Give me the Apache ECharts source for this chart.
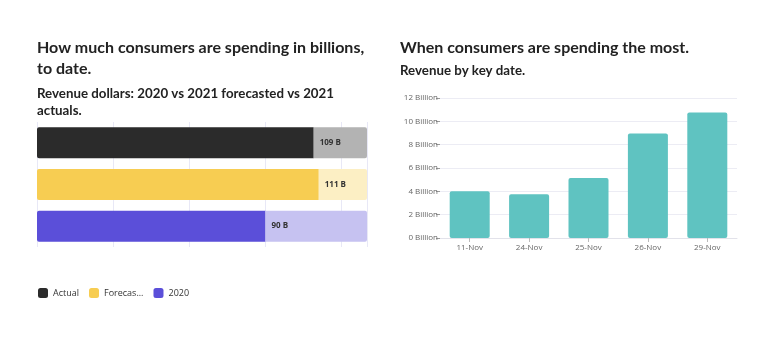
<!DOCTYPE html>
<html>
<head>
<meta charset="utf-8">
<script src="https://cdn.jsdelivr.net/npm/echarts@6/dist/echarts.min.js"></script>
<style>
  html, body { margin: 0; padding: 0; background: #fff; }
  #chart { width: 758px; height: 345px; }
</style>
</head>
<body>
<div id="chart"></div>
<script>
// spending to date (billions)
var spendNames = ['Actual', 'Forecasted', '2020'];
var spendValues = [109, 111, 90];
var spendMax = 130;
var spendColors = ['#2b2b2b', '#f7cd52', '#5b4fd9'];
var spendLight = ['#b3b3b3', '#fcefc4', '#c6c2f1'];

// revenue by key date (billions)
var dates = ['11-Nov', '24-Nov', '25-Nov', '26-Nov', '29-Nov'];
var revenue = [4.0, 3.75, 5.15, 8.95, 10.75];
var revenueTicks = [0, 2, 4, 6, 8, 10, 12];

var FONT = 'Open Sans';
var HEAD = 'Lato';
var myChart = echarts.init(document.getElementById('chart'));

var series = [];
spendNames.forEach(function (name, i) {
	series.push({
		name: name,
		type: 'bar',
		stack: 's' + i,
		xAxisIndex: 0,
		yAxisIndex: 0,
		barWidth: 31,
		barGap: '-100%',
		itemStyle: { color: spendColors[i], borderRadius: [2, 0, 0, 2] },
		label: {
			show: true,
			position: 'right',
			distance: 6,
			formatter: '{c} B',
			fontFamily: FONT,
			fontSize: 8,
			fontWeight: 'bold',
			color: '#333'
		},
		data: spendNames.map(function (n, j) { return j === i ? spendValues[i] : '-'; })
	});
	// lighter remainder up to the axis max
	series.push({
		name: name + ' remaining',
		type: 'bar',
		stack: 's' + i,
		xAxisIndex: 0,
		yAxisIndex: 0,
		barWidth: 31,
		barGap: '-100%',
		silent: true,
		itemStyle: { color: spendLight[i], borderRadius: [0, 2, 2, 0] },
		data: spendNames.map(function (n, j) { return j === i ? spendMax - spendValues[i] : '-'; })
	});
});

series.push({
	name: 'Revenue',
	type: 'bar',
	xAxisIndex: 1,
	yAxisIndex: 1,
	barWidth: 40,
	itemStyle: { color: '#5fc3c1', borderRadius: 2 },
	data: revenue
});

option = {
	backgroundColor: '#fff',
	animation: false,
	title: [
		{
			text: 'How much consumers are spending in billions,\nto date.',
			left: 37, top: 37, padding: 0,
			textStyle: { fontFamily: HEAD, fontSize: 16, fontWeight: 'bold', color: '#222', lineHeight: 21 }
		},
		{
			text: 'Revenue dollars: 2020 vs 2021 forecasted vs 2021\nactuals.',
			left: 37, top: 85, padding: 0,
			textStyle: { fontFamily: HEAD, fontSize: 13.3, fontWeight: 'bold', color: '#222', lineHeight: 17 }
		},
		{
			text: 'When consumers are spending the most.',
			left: 400, top: 37, padding: 0,
			textStyle: { fontFamily: HEAD, fontSize: 16, fontWeight: 'bold', color: '#222', lineHeight: 21 }
		},
		{
			text: 'Revenue by key date.',
			left: 400, top: 63, padding: 0,
			textStyle: { fontFamily: HEAD, fontSize: 13.3, fontWeight: 'bold', color: '#222', lineHeight: 16 }
		}
	],
	legend: {
		data: spendNames,
		left: 33, top: 283,
		icon: 'roundRect',
		itemWidth: 10, itemHeight: 10,
		itemGap: 10,
		textStyle: { fontFamily: FONT, fontSize: 9, color: '#333', width: 44, overflow: 'truncate', ellipsis: '...' }
	},
	grid: [
		{ left: 37, right: 391, top: 122, bottom: 98 },
		{ left: 440, right: 21, top: 98, bottom: 107 }
	],
	xAxis: [
		{
			type: 'value', gridIndex: 0, min: 0, max: spendMax, interval: 30,
			axisLabel: { show: false },
			axisLine: { show: false },
			axisTick: { show: false },
			splitLine: { lineStyle: { color: '#e8e8f6' } }
		},
		{
			type: 'category', gridIndex: 1, data: dates,
			axisLine: { lineStyle: { color: '#e2e2ea' } },
			axisTick: { show: true, alignWithLabel: true, length: 4, lineStyle: { color: '#bbb' } },
			axisLabel: { fontFamily: FONT, fontSize: 8, color: '#666', margin: 6 }
		}
	],
	yAxis: [
		{
			type: 'category', gridIndex: 0, data: spendNames, inverse: true,
			axisLabel: { show: false },
			axisLine: { show: false },
			axisTick: { show: false }
		},
		{
			type: 'value', gridIndex: 1, min: revenueTicks[0], max: revenueTicks[revenueTicks.length - 1], interval: 2,
			axisLine: { show: false },
			axisTick: { show: true, length: 4, lineStyle: { color: '#999' } },
			axisLabel: { fontFamily: FONT, fontSize: 8, color: '#666', margin: 2, formatter: '{value} Billion' },
			splitLine: { lineStyle: { color: '#ececf4' } }
		}
	],
	series: series
};
myChart.setOption(option);
</script>
</body>
</html>
